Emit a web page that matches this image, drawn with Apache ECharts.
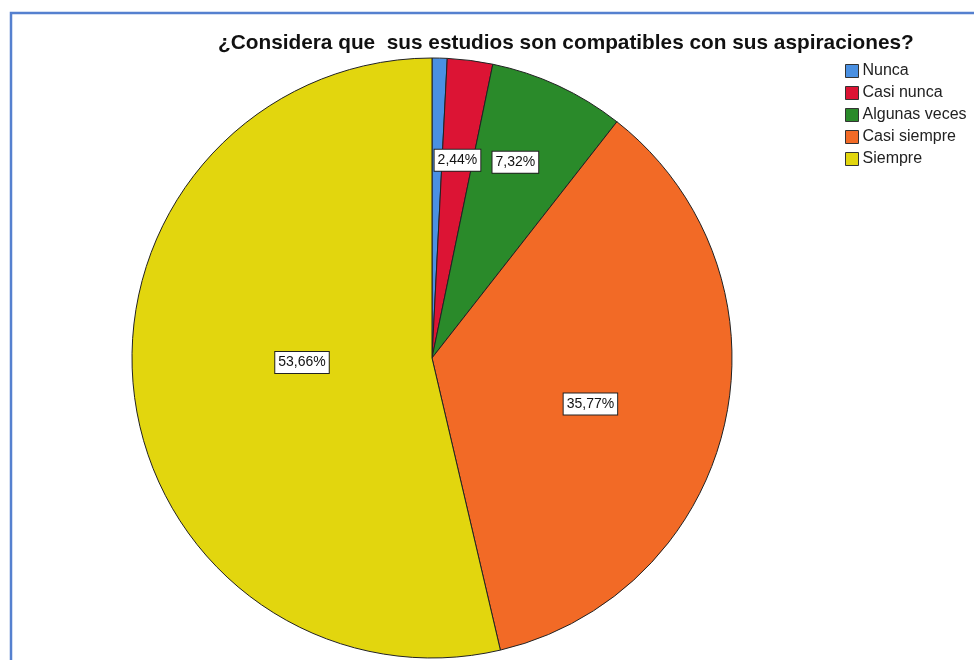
<!DOCTYPE html>
<html>
<head>
<meta charset="utf-8">
<script src="https://cdn.jsdelivr.net/npm/echarts@6/dist/echarts.min.js"></script>
<style>html,body{margin:0;padding:0;background:#fff;}#c{width:974px;height:660px;}</style>
</head>
<body>
<div id="c"></div>
<script>
var titleText = '¿Considera que  sus estudios son compatibles con sus aspiraciones?';
var categories = ['Nunca', 'Casi nunca', 'Algunas veces', 'Casi siempre', 'Siempre'];
var percents = [0.81, 2.44, 7.32, 35.77, 53.66];
var showLabel = [false, true, true, true, true];

var colors = ['#4a90e2', '#dc1434', '#2a8a2a', '#f26a26', '#e2d60e'];
var labelOffsets = [[0, 0], [6, -46], [19, -57], [9, 13], [22, -13]];

var chart = echarts.init(document.getElementById('c'), null, {renderer: 'canvas'});
var data = categories.map(function (c, i) {
  return {
    name: c,
    value: percents[i],
    itemStyle: {color: colors[i]},
    label: {show: showLabel[i], offset: labelOffsets[i]}
  };
});
chart.setOption({
  animation: false,
  backgroundColor: '#fff',
  title: {
    text: titleText,
    left: 218, top: 33, padding: 0,
    textStyle: {fontFamily: 'Liberation Sans, Arial, sans-serif', fontWeight: 'bold', fontSize: 20.8, color: '#111'}
  },
  legend: {
    orient: 'vertical',
    left: 845, top: 62, padding: 0,
    icon: 'rect',
    itemWidth: 13, itemHeight: 13, itemGap: 4,
    itemStyle: {borderColor: '#333', borderWidth: 1},
    textStyle: {fontFamily: 'Liberation Sans, Arial, sans-serif', fontSize: 16, lineHeight: 18, color: '#222', padding: [0, 0, 0, -1]},
    data: categories
  },
  graphic: [{
    type: 'rect', silent: true,
    shape: {x: 11, y: 13, width: 1000, height: 700},
    style: {fill: null, stroke: '#5580cf', lineWidth: 2.5}
  }],
  series: [{
    type: 'pie',
    center: [432, 358],
    radius: 300,
    startAngle: 90,
    clockwise: true,
    avoidLabelOverlap: false,
    itemStyle: {borderColor: '#222', borderWidth: 1},
    label: {
      position: 'inside',
      formatter: function (p) { return p.value.toFixed(2).replace('.', ',') + '%'; },
      fontFamily: 'Liberation Sans, Arial, sans-serif',
      fontSize: 14,
      color: '#111',
      backgroundColor: '#fff',
      borderColor: '#222',
      borderWidth: 1,
      padding: [4, 3, 3, 3]
    },
    labelLine: {show: false},
    emphasis: {disabled: true},
    data: data
  }]
});
</script>
</body>
</html>
